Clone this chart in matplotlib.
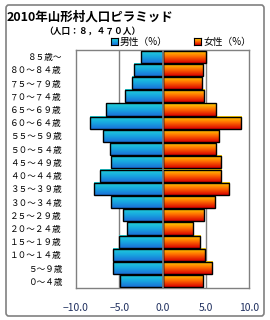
import matplotlib
matplotlib.use("Agg")
import matplotlib.pyplot as plt
import numpy as np
from matplotlib.colors import LinearSegmentedColormap
from matplotlib.patches import Rectangle, FancyBboxPatch

plt.rcParams['font.family'] = ['Noto Sans CJK JP', 'DejaVu Sans']

age_labels = ["０～４歳", "５～９歳", "１０～１４歳", "１５～１９歳", "２０～２４歳",
              "２５～２９歳", "３０～３４歳", "３５～３９歳", "４０～４４歳", "４５～４９歳",
              "５０～５４歳", "５５～５９歳", "６０～６４歳", "６５～６９歳", "７０～７４歳",
              "７５～７９歳", "８０～８４歳", "８５歳～"]
male = [4.9, 5.7, 5.7, 5.05, 4.1, 4.6, 6.0, 7.95, 7.25, 6.0,
        6.1, 6.9, 8.4, 6.55, 4.35, 3.5, 3.3, 2.5]
female = [4.67, 5.7, 4.9, 4.3, 3.5, 4.8, 6.05, 7.67, 6.75, 6.75,
          6.17, 6.5, 9.06, 6.17, 4.8, 4.55, 4.67, 5.0]
xticks = [-10, -5, 0, 5, 10]
xticklabels = ["\u221210.0", "\u22125.0", "0.0", "5.0", "10.0"]

fig = plt.figure(figsize=(2.7, 3.2), dpi=100)
fig.patch.set_facecolor("white")
border = FancyBboxPatch((6/270, 4/320), 258/270, 311/320,
                        boxstyle="round,pad=0,rounding_size=0.01",
                        transform=fig.transFigure, fill=False,
                        edgecolor="#808080", linewidth=1.2)
fig.patches.append(border)

ax = fig.add_axes([76/270, 1-288/320, 173/270, 238/320])
ax.set_xlim(-10, 10)
ax.set_ylim(-0.5, len(age_labels)-0.5)

cm_m = LinearSegmentedColormap.from_list("m", ["#1a70d8", "#18a8e0", "#22d4d8"])
cm_f = LinearSegmentedColormap.from_list("f", ["#d80000", "#ff6a00", "#ffd800"])
grad = np.linspace(0, 1, 64).reshape(-1, 1)

y = np.arange(len(age_labels))
h = 0.92
for xv in [-5, 5]:
    ax.axvline(xv, color="#808080", linewidth=1.0, zorder=0)

bm = ax.barh(y, [-v for v in male], height=h, color="none", edgecolor="black", linewidth=1.0, zorder=3)
bf = ax.barh(y, female, height=h, color="none", edgecolor="black", linewidth=1.0, zorder=3)
for bars, cmap in [(bm, cm_m), (bf, cm_f)]:
    for b in bars:
        x0 = b.get_x(); w = b.get_width(); y0 = b.get_y(); hh = b.get_height()
        ax.imshow(grad, cmap=cmap, extent=[x0, x0+w, y0, y0+hh], origin="lower",
                  aspect="auto", zorder=2, interpolation="bilinear")
ax.set_xlim(-10, 10)
ax.set_ylim(-0.5, len(age_labels)-0.5)
ax.axvline(0, color="#808080", linewidth=1.2, zorder=4)

ax.set_yticks(y)
ax.set_yticklabels(age_labels, fontsize=6.2)
ax.set_xticks(xticks)
ax.set_xticklabels(xticklabels, fontsize=7.5, color="#203060")
ax.tick_params(axis='x', length=0, pad=11)
ax.tick_params(axis='y', length=0, pad=10)
for s in ax.spines.values():
    s.set_color("#808080")
    s.set_linewidth(1.0)

fig.text(7/270, 1-17/320, "2010年山形村人口ピラミッド", fontsize=9, fontweight="bold",
         va="center", ha="left")
fig.text(92/270, 1-31/320, "（人口：８，４７０人）", fontsize=6.3, fontweight="bold",
         va="center", ha="center")

grad_leg = np.linspace(0, 1, 16).reshape(-1, 1)
lax1 = fig.add_axes([111/270, 1-45/320, 7/270, 7/320])
lax1.imshow(grad_leg, cmap=cm_m, origin="lower", aspect="auto")
lax2 = fig.add_axes([194/270, 1-45/320, 7/270, 7/320])
lax2.imshow(grad_leg, cmap=cm_f, origin="lower", aspect="auto")
for la in (lax1, lax2):
    la.set_xticks([]); la.set_yticks([])
    for s in la.spines.values():
        s.set_color("black"); s.set_linewidth(0.8)
fig.text(120/270, 1-41.5/320, "男性（%）", fontsize=7, va="center", ha="left")
fig.text(203/270, 1-41.5/320, "女性（%）", fontsize=7, va="center", ha="left")

fig.savefig("out.png", dpi=100)
